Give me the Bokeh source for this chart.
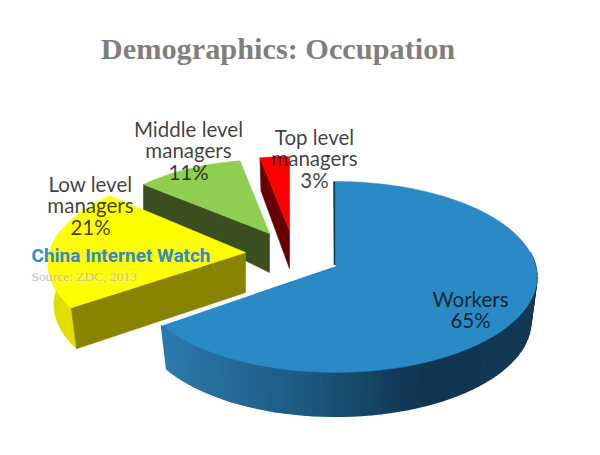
import math
from bokeh.plotting import figure
from bokeh.models import Range1d
from bokeh.core.properties import value
from bokeh.embed import file_html
from bokeh.resources import INLINE

title = "Demographics: Occupation"
categories = ["Workers", "Low level\nmanagers", "Middle level\nmanagers", "Top level\nmanagers"]
shares = [65, 21, 11, 3]
watermark = "China Internet Watch"
source_note = "Source: ZDC, 2013"

# Styling and projection of the 3D pie (page pixels)
face_colors = ["#2a8ac6", "#ffff00", "#8fce50", "#ff0000"]
cut_colors = ["#103650", "#888400", "#3a4f20", "#660000"]
apexes = [(335, 265), (245, 252), (269, 233), (289, 230)]
scales = [1.0, 0.98, 0.88, 0.88]
twists = [0, 2, 0, 0]
depths = [(44, 44), (40, 41), (39, 26), (38, 33)]
label_pos = [(470, 309), (90, 205), (188, 150), (314, 158)]
RX, RY, K = 200, 94, 0.12

W, H = 600, 455
p = figure(width=W - 16, height=H - 16, x_range=Range1d(0, W - 16), y_range=Range1d(H - 16, 0),
           output_backend="svg", toolbar_location=None, min_border=0,
           outline_line_color=None)
p.axis.visible = False
p.grid.visible = False
p.background_fill_color = "white"


def rim_point(i, theta):
    t = math.radians(theta + twists[i])
    u, v = math.sin(t), -math.cos(t)
    s = 1 / (1 - K * v) * scales[i]
    return apexes[i][0] + RX * u * s, apexes[i][1] + RY * v * s


def low(i, pt, depth):
    return apexes[i][0] + (pt[0] - apexes[i][0]) * 0.97, pt[1] + depth


def arc(i, a, b, n=90):
    return [rim_point(i, a + (b - a) * k / n) for k in range(n + 1)]


def poly(pts, color, width=0.6):
    p.patch([q[0] for q in pts], [q[1] for q in pts], fill_color=color,
            line_color=color, line_width=width)


def mix(stops, x):
    if x <= stops[0][0]:
        return stops[0][1]
    for (x0, c0), (x1, c1) in zip(stops, stops[1:]):
        if x <= x1:
            f = (x - x0) / (x1 - x0)
            return tuple(round(a + (b - a) * f) for a, b in zip(c0, c1))
    return stops[-1][1]


blue_stops = [(166, (43, 121, 173)), (300, (29, 90, 130)), (400, (18, 58, 88)),
              (430, (15, 53, 80)), (535, (18, 58, 87))]

# angular spans
spans = []
a = 0
for s in shares:
    spans.append((a, a + s * 3.6))
    a += s * 3.6

# Middle level managers
i = 2
st, en = spans[i]
e = rim_point(i, st)
ap = apexes[i]
poly([ap, e, (e[0], e[1] + depths[i][1]), (ap[0], ap[1] + depths[i][0])], cut_colors[i])
poly([ap] + arc(i, st, en), face_colors[i])

# Top level managers
i = 3
st, en = spans[i]
e = rim_point(i, st)
ap = apexes[i]
poly([ap, e, (e[0] + 1, e[1] + depths[i][1]), (ap[0], ap[1] + depths[i][0])], cut_colors[i])
poly([ap] + arc(i, st, en, 20), face_colors[i])

# Low level managers
i = 1
st, en = spans[i]
ap = apexes[i]
top = arc(i, st, st + 48, 40)
poly(top + [low(i, q, depths[i][1]) for q in reversed(top)], "#e2de00")
e = rim_point(i, st)
poly([ap, e, low(i, e, depths[i][1]), (ap[0], ap[1] + depths[i][0])], cut_colors[i])
poly([ap] + arc(i, st, en), face_colors[i])

# Workers
i = 0
st, en = spans[i]
ap = apexes[i]
a0 = 82
n = 60
for k in range(n):
    t0 = a0 + (en - a0) * k / n
    t1 = a0 + (en - a0) * (k + 1) / n
    q0, q1 = rim_point(i, t0), rim_point(i, t1)
    r0, r1 = low(i, q0, depths[i][0]), low(i, q1, depths[i][0])
    c = "#%02x%02x%02x" % mix(blue_stops, (q0[0] + q1[0]) / 2)
    poly([q0, q1, r1, r0], c, 1.5)
s0 = rim_point(i, st)
p.line([s0[0] - 1, ap[0] - 0.5], [s0[1], ap[1]], line_color=cut_colors[i], line_width=2.5)
poly([ap] + arc(i, st, en, 240), face_colors[i])
e = rim_point(i, en)
p.line([ap[0], e[0]], [ap[1], e[1]], line_color="white", line_width=1.5)

# Data labels
for c, s, (x, y) in zip(categories, shares, label_pos):
    p.text([x], [y], text=[f"{c}\n{s}%"], text_font=value("Lato"), text_font_size="20.5px",
           text_color="#000000", text_alpha=0.75, text_align="center",
           text_baseline="middle", text_line_height=0.88)

# Title and watermark
p.text([277.5], [48.5], text=[title], text_font=value("Liberation Serif"), text_font_size="30.3px",
       text_font_style="bold", text_color="#7f7f7f", text_align="center", text_baseline="middle")
p.text([31], [255], text=[watermark], text_font=value("Roboto"), text_font_size="19px",
       text_font_style="bold", text_color="#2f8cc8", text_align="left", text_baseline="middle")
p.text([31], [276], text=[source_note], text_font=value("Liberation Serif"), text_font_size="13.5px",
       text_color="#c0c0c0", text_align="left", text_baseline="middle")

open("out.html", "w").write(file_html(p, INLINE))
